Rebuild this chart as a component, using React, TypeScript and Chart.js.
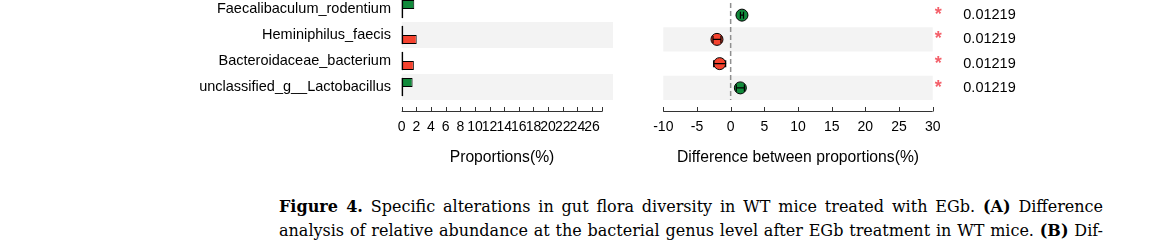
import React, { useEffect, useRef } from 'react';
import { Chart, registerables } from 'chart.js';

Chart.register(...registerables);

// Taxa, top to bottom
const taxa = [
  'Faecalibaculum_rodentium',
  'Heminiphilus_faecis',
  'Bacteroidaceae_bacterium',
  'unclassified_g__Lactobacillus',
];

// Mean relative abundance (%) per group
const proportionsGreen = [1.72, 0.02, 0.03, 1.49];
const proportionsRed = [0.04, 2.05, 1.66, 0.05];

// Difference between proportions (%) with 95% confidence interval
const diffMean = [1.68, -2.03, -1.63, 1.44];
const diffLow = [1.45, -2.62, -2.52, 0.84];
const diffHigh = [1.91, -1.44, -0.74, 2.04];

// Corrected p-values
const pValues = ['0.01219', '0.01219', '0.01219', '0.01219'];

// Axis ticks
const propTicks = [0, 2, 4, 6, 8, 10, 12, 14, 16, 18, 20, 22, 24, 26];
const propAxisEnd = 27.4;
const diffTicks = [-10, -5, 0, 5, 10, 15, 20, 25, 30];

const GREEN = '#118A3B';
const RED = '#F5432F';
const BAND = '#F3F3F3';
const FONT = "'Liberation Sans', Arial, Helvetica, sans-serif";

// Alternating grey row bands behind the marks
const rowBands = {
  id: 'rowBands',
  beforeDatasetsDraw(chart: any, _args: any, opts: any) {
    const { ctx, chartArea } = chart;
    const y = chart.scales.y;
    const n = y.getLabels().length;
    const h = (chartArea.bottom - chartArea.top) / n;
    ctx.save();
    ctx.fillStyle = opts.color || BAND;
    for (let i = 1; i < n; i += 2) {
      const c = y.getPixelForValue(i);
      ctx.fillRect(chartArea.left, c - h / 2, chartArea.right - chartArea.left + (opts.extend || 0), h);
    }
    ctx.restore();
  },
};

// Bottom axis line detached from the plot area, with ticks pointing up
const axisLine = {
  id: 'axisLine',
  afterDraw(chart: any, _args: any, opts: any) {
    const { ctx, chartArea } = chart;
    const x = chart.scales.x;
    const yLine = Math.round(chartArea.bottom + opts.gap) + 0.5;
    ctx.save();
    ctx.strokeStyle = '#333';
    ctx.lineWidth = 1;
    ctx.beginPath();
    ctx.moveTo(x.getPixelForValue(x.min), yLine);
    ctx.lineTo(x.getPixelForValue(x.max), yLine);
    const values = x.ticks.map((t: any) => t.value);
    if (!values.includes(x.max)) values.push(x.max);
    values.forEach((v: number) => {
      const px = Math.round(x.getPixelForValue(v)) + 0.5;
      ctx.moveTo(px, yLine - opts.tick);
      ctx.lineTo(px, yLine);
    });
    ctx.stroke();
    ctx.restore();
  },
};

// Black base line at the origin of every bar
const barBaseline = {
  id: 'barBaseline',
  afterDatasetsDraw(chart: any) {
    const { ctx } = chart;
    ctx.save();
    ctx.strokeStyle = '#000';
    ctx.lineWidth = 1.4;
    chart.data.datasets.forEach((_d: any, di: number) => {
      const meta = chart.getDatasetMeta(di);
      meta.data.forEach((bar: any) => {
        const p = bar.getProps(['base', 'y', 'height'], true);
        ctx.beginPath();
        ctx.moveTo(p.base + 0.7, p.y - p.height / 2);
        ctx.lineTo(p.base + 0.7, p.y + p.height / 2);
        ctx.stroke();
      });
    });
    ctx.restore();
  },
};

// Dashed reference line at zero difference
const zeroLine = {
  id: 'zeroLine',
  beforeDatasetsDraw(chart: any) {
    const { ctx, chartArea } = chart;
    const x = chart.scales.x.getPixelForValue(0);
    ctx.save();
    ctx.strokeStyle = '#8F8F8F';
    ctx.lineWidth = 1.5;
    ctx.setLineDash([5, 3]);
    ctx.beginPath();
    ctx.moveTo(x, chartArea.top);
    ctx.lineTo(x, chartArea.bottom);
    ctx.stroke();
    ctx.restore();
  },
};

// Confidence-interval whiskers drawn over the points
const errorBars = {
  id: 'errorBars',
  afterDatasetsDraw(chart: any) {
    const { ctx } = chart;
    const x = chart.scales.x;
    const y = chart.scales.y;
    ctx.save();
    ctx.strokeStyle = '#000';
    ctx.lineWidth = 1.2;
    diffMean.forEach((_m, i) => {
      const cy = y.getPixelForValue(i);
      const x1 = x.getPixelForValue(diffLow[i]);
      const x2 = x.getPixelForValue(diffHigh[i]);
      ctx.beginPath();
      ctx.moveTo(x1, cy);
      ctx.lineTo(x2, cy);
      ctx.moveTo(x1, cy - 3.5);
      ctx.lineTo(x1, cy + 3.5);
      ctx.moveTo(x2, cy - 3.5);
      ctx.lineTo(x2, cy + 3.5);
      ctx.stroke();
    });
    ctx.restore();
  },
};

// Significance asterisks just right of the plot area
const stars = {
  id: 'stars',
  afterDraw(chart: any) {
    const { ctx, chartArea } = chart;
    const y = chart.scales.y;
    ctx.save();
    ctx.fillStyle = '#F4606A';
    ctx.font = `bold 18px ${FONT}`;
    ctx.textAlign = 'center';
    ctx.textBaseline = 'middle';
    pValues.forEach((p, i) => {
      if (Number(p) < 0.05) ctx.fillText('*', chartArea.right + 5.6, y.getPixelForValue(i));
    });
    ctx.restore();
  },
};

const tickFont = { family: FONT, size: 14 };
const titleFont = { family: FONT, size: 15.7 };

export default function App() {
  const leftRef = useRef<HTMLCanvasElement>(null);
  const rightRef = useRef<HTMLCanvasElement>(null);

  useEffect(() => {
    const left = new Chart(leftRef.current as HTMLCanvasElement, {
      type: 'bar',
      data: {
        labels: taxa,
        datasets: [
          {
            data: proportionsGreen,
            backgroundColor: GREEN,
            borderColor: '#000',
            borderWidth: 1,
            borderSkipped: false,
            categoryPercentage: 0.7,
            barPercentage: 1,
          },
          {
            data: proportionsRed,
            backgroundColor: RED,
            borderColor: '#000',
            borderWidth: 1,
            borderSkipped: false,
            categoryPercentage: 0.7,
            barPercentage: 1,
          },
        ],
      },
      options: {
        indexAxis: 'y',
        responsive: false,
        animation: false,
        layout: { padding: { left: 0, right: 17.7, top: 0, bottom: 0 } },
        plugins: {
          legend: { display: false },
          tooltip: { enabled: false },
          rowBands: { extend: 10.7 },
          axisLine: { gap: 10.7, tick: 4.5 },
        } as any,
        scales: {
          x: {
            type: 'linear',
            min: 0,
            max: propAxisEnd,
            afterBuildTicks: (s: any) => {
              s.ticks = propTicks.concat(propAxisEnd).map((v) => ({ value: v }));
            },
            afterFit: (s: any) => {
              s.height = 80;
              s.paddingLeft = 0;
              s.paddingRight = 0;
            },
            ticks: {
              callback: (v: any) => (propTicks.includes(v) ? String(v) : ''),
              autoSkip: false,
              maxRotation: 0,
              minRotation: 0,
              padding: 18.5,
              font: tickFont,
              color: '#000',
            },
            grid: { display: false, drawTicks: false },
            border: { display: false },
            title: {
              display: true,
              text: 'Proportions(%)',
              font: titleFont,
              color: '#000',
              padding: { top: 0, bottom: 13 },
            },
          },
          y: {
            type: 'category',
            afterFit: (s: any) => {
              s.width = 401.7;
              s.paddingTop = 0;
              s.paddingBottom = 0;
            },
            ticks: { font: { family: FONT, size: 14.5 }, color: '#000', padding: 10.7 },
            grid: { display: false, drawTicks: false },
            border: { display: false },
          },
        } as any,
      },
      plugins: [rowBands, axisLine, barBaseline],
    } as any);

    const right = new Chart(rightRef.current as HTMLCanvasElement, {
      type: 'scatter',
      data: {
        labels: taxa,
        datasets: [
          {
            data: taxa.map((t, i) => ({ x: diffMean[i], y: t })),
            backgroundColor: diffMean.map((d) => (d > 0 ? GREEN : RED)),
            borderColor: '#000',
            borderWidth: 1,
            pointRadius: 6,
            pointHoverRadius: 6,
          },
        ],
      },
      options: {
        responsive: false,
        animation: false,
        layout: { padding: { left: 43.3, right: 0, top: 0, bottom: 0 } },
        plugins: {
          legend: { display: false },
          tooltip: { enabled: false },
          rowBands: { extend: 0 },
          axisLine: { gap: 10.7, tick: 4.5 },
        } as any,
        scales: {
          x: {
            type: 'linear',
            min: diffTicks[0],
            max: diffTicks[diffTicks.length - 1],
            afterBuildTicks: (s: any) => {
              s.ticks = diffTicks.map((v) => ({ value: v }));
            },
            afterFit: (s: any) => {
              s.height = 80;
              s.paddingLeft = 0;
              s.paddingRight = 0;
            },
            ticks: {
              autoSkip: false,
              maxRotation: 0,
              minRotation: 0,
              padding: 18.5,
              font: tickFont,
              color: '#000',
            },
            grid: { display: false, drawTicks: false },
            border: { display: false },
            title: {
              display: true,
              text: 'Difference between proportions(%)',
              font: titleFont,
              color: '#000',
              padding: { top: 0, bottom: 13 },
            },
          },
          y: {
            type: 'category',
            display: false,
            offset: true,
          },
          y2: {
            type: 'category',
            labels: pValues,
            position: 'right',
            offset: true,
            afterFit: (s: any) => {
              s.width = 224.3;
              s.paddingTop = 0;
              s.paddingBottom = 0;
            },
            ticks: { font: { family: FONT, size: 14.5 }, color: '#000', padding: 30.6 },
            grid: { display: false, drawTicks: false },
            border: { display: false },
          },
        } as any,
      },
      plugins: [rowBands, zeroLine, errorBars, axisLine, stars],
    } as any);

    return () => {
      left.destroy();
      right.destroy();
    };
  }, []);

  const lineStyle: React.CSSProperties = {
    textAlign: 'justify',
    textAlignLast: 'justify',
    whiteSpace: 'normal',
  };

  return (
    <div
      style={{
        position: 'absolute',
        left: 0,
        top: 0,
        width: 1157,
        height: 248,
        overflow: 'hidden',
        background: '#fff',
      }}
    >
      <div style={{ position: 'absolute', left: 0, top: -4, width: 620, height: 184 }}>
        <canvas ref={leftRef} width={620} height={184} style={{ width: 620, height: 184, display: 'block' }} />
      </div>
      <div style={{ position: 'absolute', left: 620, top: -4, width: 537, height: 184 }}>
        <canvas ref={rightRef} width={537} height={184} style={{ width: 537, height: 184, display: 'block' }} />
      </div>
      <div
        style={{
          position: 'absolute',
          left: 279,
          top: 195,
          width: 824,
          fontFamily: "'DejaVu Serif', 'Liberation Serif', serif",
          fontSize: 16,
          lineHeight: '24px',
          color: '#000',
        }}
      >
        <div style={lineStyle}>
          <b>Figure 4.</b> Specific alterations in gut flora diversity in WT mice treated with EGb. <b>(A)</b> Difference
        </div>
        <div style={lineStyle}>
          analysis of relative abundance at the bacterial genus level after EGb treatment in WT mice. <b>(B)</b> Dif-
        </div>
      </div>
    </div>
  );
}
